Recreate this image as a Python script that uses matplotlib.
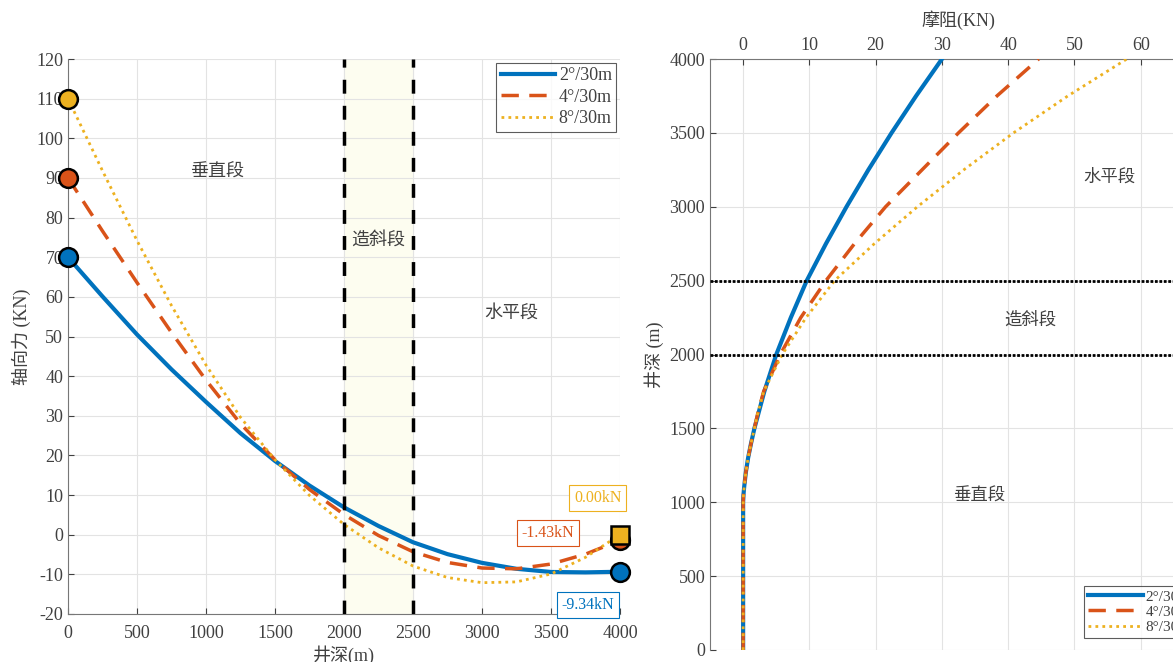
import numpy as np
import matplotlib
matplotlib.use("Agg")
import matplotlib.pyplot as plt

plt.rcParams['font.family'] = ['Liberation Serif', 'Noto Sans CJK SC']
plt.rcParams['axes.unicode_minus'] = False

# left panel: axial force along the well
depth = [0, 250, 500, 750, 1000, 1250, 1500, 1750, 2000, 2250, 2500, 2750, 3000, 3250, 3500, 3750, 4000]
force_2 = [70, 60.1, 50.5, 41.7, 33.5, 25.6, 18.6, 12.4, 6.9, 2.2, -1.9, -4.9, -7.1, -8.6, -9.4, -9.5, -9.34]
force_4 = [90, 76.6, 63.6, 51.0, 39.0, 28.0, 18.9, 11.4, 5.1, -0.2, -4.3, -7.0, -8.4, -8.6, -7.4, -4.9, -1.43]
force_8 = [110, 91.8, 74.2, 57.8, 42.8, 29.6, 18.9, 9.9, 2.6, -3.3, -7.9, -10.8, -12.1, -11.9, -9.9, -5.7, 0.0]

# right panel: friction vs depth
depth_r = [0, 500, 1000, 1050, 1100, 1200, 1300, 1400, 1500, 1600, 1750, 2000, 2250, 2500,
           2750, 3000, 3250, 3500, 3750, 4000]
fric_2 = [0, 0, 0, 0.05, 0.15, 0.4, 0.75, 1.2, 1.7, 2.3, 3.2, 5.0, 7.2, 9.6, 12.5, 15.6, 18.9, 22.4, 26.1, 30.0]
fric_4 = [0, 0, 0, 0.05, 0.15, 0.4, 0.75, 1.2, 1.7, 2.2, 3.1, 5.6, 8.7, 12.5, 16.8, 21.5, 27.0, 32.5, 38.3, 44.6]
fric_8 = [0, 0, 0, 0.05, 0.15, 0.4, 0.75, 1.2, 1.7, 2.2, 3.1, 5.9, 9.5, 13.8, 19.8, 26.3, 33.3, 40.8, 49.0, 57.9]

labels = ['2°/30m', '4°/30m', '8°/30m']
end_text = ['-9.34kN', '-1.43kN', '0.00kN']

c_blue, c_red, c_yel = '#0072BD', '#D95319', '#EDB120'
txt = '#404040'
spine_c = '#777777'
grid_c = '#e3e3e3'

fig = plt.figure(figsize=(11.73, 6.62), dpi=100)

# ---------------- left ----------------
ax1 = fig.add_axes([68/1173, 48/662, 552/1173, 555/662])
ax1.axvspan(2000, 2500, color='#FDFDF0', zorder=0)
ax1.plot(depth, force_2, color=c_blue, lw=3, label=labels[0], zorder=3)
ax1.plot(depth, force_4, color=c_red, lw=2.5, ls=(0, (5, 3)), label=labels[1], zorder=3)
ax1.plot(depth, force_8, color=c_yel, lw=2, ls=(0, (1, 1.5)), label=labels[2], zorder=3)
ax1.axvline(2000, color='k', lw=2.5, ls=(0, (4, 3.5)), zorder=4)
ax1.axvline(2500, color='k', lw=2.5, ls=(0, (4, 3.5)), zorder=4)

mk = dict(ms=13.5, mec='k', mew=1.8, clip_on=False)
ax1.plot(depth[0], force_2[0], 'o', mfc=c_blue, zorder=6, **mk)
ax1.plot(depth[0], force_4[0], 'o', mfc=c_red, zorder=6, **mk)
ax1.plot(depth[0], force_8[0], 'o', mfc=c_yel, zorder=6, **mk)
ax1.plot(depth[-1], force_2[-1], 'o', mfc=c_blue, zorder=6, **mk)
ax1.plot(depth[-1], force_4[-1], 'o', mfc=c_red, zorder=6, **mk)
ax1.plot(depth[-1], force_8[-1], 's', ms=13, mfc=c_yel, mec='k', mew=1.8, clip_on=False, zorder=7)

ax1.text(3768, -17.7, end_text[0], color=c_blue, fontsize=11.5, ha='center', va='center',
         bbox=dict(boxstyle='square,pad=0.3', fc='white', ec=c_blue, lw=0.8), zorder=8)
ax1.text(3480, 0.4, end_text[1], color=c_red, fontsize=11.5, ha='center', va='center',
         bbox=dict(boxstyle='square,pad=0.3', fc='white', ec=c_red, lw=0.8), zorder=8)
ax1.text(3840, 9.3, end_text[2], color=c_yel, fontsize=11.5, ha='center', va='center',
         bbox=dict(boxstyle='square,pad=0.3', fc='white', ec=c_yel, lw=0.8), zorder=8)

ax1.text(1080, 91.5, '垂直段', color=txt, fontsize=13, ha='center', va='center')
ax1.text(2250, 74.3, '造斜段', color=txt, fontsize=13, ha='center', va='center')
ax1.text(3210, 56, '水平段', color=txt, fontsize=13, ha='center', va='center')

ax1.set_xlim(0, 4000)
ax1.set_ylim(-20, 120)
ax1.set_xticks(np.arange(0, 4001, 500))
ax1.set_yticks(np.arange(-20, 121, 10))
ax1.grid(True, color=grid_c, lw=0.8)
ax1.set_axisbelow(True)
ax1.tick_params(direction='in', labelsize=13, colors=txt, length=4)
ax1.tick_params(axis='x', pad=8)
for s in ['top', 'right']:
    ax1.spines[s].set_visible(False)
for s in ['left', 'bottom']:
    ax1.spines[s].set_color(spine_c)
ax1.set_xlabel('井深(m)', fontsize=13, color=txt, labelpad=2)
ax1.set_ylabel('轴向力 (KN)', fontsize=13, color=txt, labelpad=4)
leg1 = ax1.legend(loc='upper right', fontsize=13, handlelength=3.0, handletextpad=0.2,
                  borderpad=0.25, labelspacing=0.25, fancybox=False, edgecolor='#333333',
                  borderaxespad=0.2)
leg1.get_frame().set_linewidth(0.8)
for t in leg1.get_texts():
    t.set_color(txt)

# ---------------- right ----------------
ax2 = fig.add_axes([710/1173, 12/662, 497/1173, 591/662])
ax2.plot(fric_2, depth_r, color=c_blue, lw=3, label=labels[0], zorder=3)
ax2.plot(fric_4, depth_r, color=c_red, lw=2.5, ls=(0, (5, 3)), label=labels[1], zorder=3)
ax2.plot(fric_8, depth_r, color=c_yel, lw=2, ls=(0, (1, 1.5)), label=labels[2], zorder=3)
ax2.axhline(2000, color='k', lw=2, ls=(0, (1, 0.6)), zorder=4)
ax2.axhline(2500, color='k', lw=2, ls=(0, (1, 0.6)), zorder=4)

ax2.text(55.2, 3200, '水平段', color=txt, fontsize=12.5, ha='center', va='center')
ax2.text(43.4, 2227, '造斜段', color=txt, fontsize=12.5, ha='center', va='center')
ax2.text(35.6, 1036, '垂直段', color=txt, fontsize=12.5, ha='center', va='center')

ax2.set_xlim(-5, 70)
ax2.set_ylim(0, 4000)
ax2.set_xticks(np.arange(0, 71, 10))
ax2.set_yticks(np.arange(0, 4001, 500))
ax2.xaxis.tick_top()
ax2.xaxis.set_label_position('top')
ax2.grid(True, color=grid_c, lw=0.8)
ax2.set_axisbelow(True)
ax2.tick_params(direction='in', labelsize=13, colors=txt, length=4)
for s in ['bottom', 'right']:
    ax2.spines[s].set_visible(False)
for s in ['left', 'top']:
    ax2.spines[s].set_color(spine_c)
ax2.set_xlabel('摩阻(KN)', fontsize=13, color=txt, labelpad=8)
ax2.set_ylabel('井深 (m)', fontsize=13, color=txt, labelpad=4)
leg2 = ax2.legend(loc='lower right', fontsize=11, handlelength=3.6, handletextpad=0.2,
                  borderpad=0.25, labelspacing=0.1, fancybox=False, edgecolor='#333333',
                  borderaxespad=0.8)
leg2.get_frame().set_linewidth(0.8)
for t in leg2.get_texts():
    t.set_color(txt)

fig.savefig('out.png', dpi=100)
